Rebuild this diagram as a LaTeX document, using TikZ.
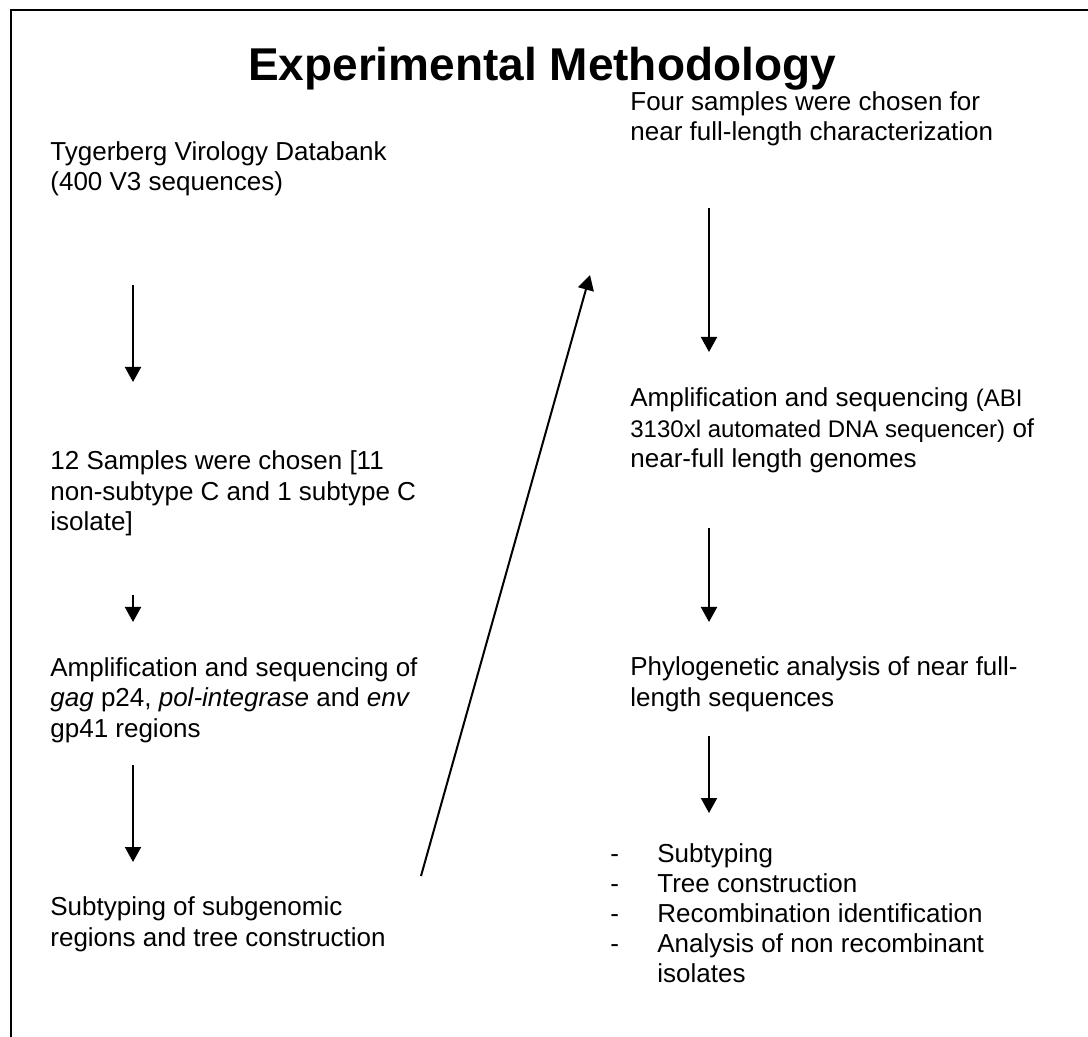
\documentclass[tikz,border=0pt]{standalone}
\usepackage{fontspec}
\setmainfont{Liberation Sans}
\usetikzlibrary{arrows.meta}

% body text and the smaller note in the second block of the right column
\newcommand{\notefont}{\fontsize{12}{15.25}\selectfont}

\tikzset{
  txt/.style={anchor=base west, align=left, inner sep=0pt, font=\fontsize{13}{15.25}\selectfont},
  flow/.style={line width=1pt, -{Triangle[length=7.5pt,width=8pt]}}
}

\begin{document}
\begin{tikzpicture}[x=0.5pt,y=-0.5pt]
  \useasboundingbox (0,0) rectangle (1088,1037);
  % frame (only top and left edges show)
  \draw[line width=1.4pt] (11,1037) -- (11,10) -- (1088,10);

  \node[anchor=base, inner sep=0pt, font=\fontsize{23}{27}\selectfont\bfseries] (title) at (542,81) {Experimental Methodology};

  % left column (nodes sit on the baseline of their last line)
  \node[txt] (tyg) at (50,191) {Tygerberg Virology Databank\\(400 V3 sequences)};
  \node[txt] (samp) at (50,531) {12 Samples were chosen [11\\non-subtype C and 1 subtype C\\isolate]};
  \node[txt] (ampl) at (50,737) {Amplification and sequencing of\\\textit{gag} p24, \textit{pol-integrase} and \textit{env}\\gp41 regions};
  \node[txt] (subt) at (50,946) {Subtyping of subgenomic\\regions and tree construction};

  % right column
  \node[txt] (four) at (630,141) {Four samples were chosen for\\near full-length characterization};
  \node[txt] (abi) at (630,468) {Amplification and sequencing {\notefont(ABI}\\{\notefont 3130xl automated DNA sequencer)} of\\near-full length genomes};
  \node[txt] (phyl) at (630,706) {Phylogenetic analysis of near full-\\length sequences};

  % list of analyses
  \foreach \i/\t in {1/Subtyping, 2/Tree construction, 3/Recombination identification, 4/Analysis of non recombinant}
    {\node[txt] (d\i) at (610,{862+30*(\i-1)}) {-};
     \node[txt] (item\i) at (657,{862+30*(\i-1)}) {\t};}
  \node[txt] (item5) at (657,982) {isolates};

  % vertical arrows
  \foreach \n/\x/\ya/\yb in {l1/133/285/382, l2/133/595/622, l3/133/765/862, r1/709/208/352, r2/709/528/622, r3/709/736/813}
    {\coordinate (\n a) at (\x,\ya);
     \coordinate (\n b) at (\x,\yb);
     \draw[flow] (\n a) -- (\n b);}

  % jump to the right column
  \coordinate (jmpa) at (421,876);
  \coordinate (jmpb) at (590,275);
  \draw[flow] (jmpa) -- (jmpb);
\end{tikzpicture}
\end{document}
